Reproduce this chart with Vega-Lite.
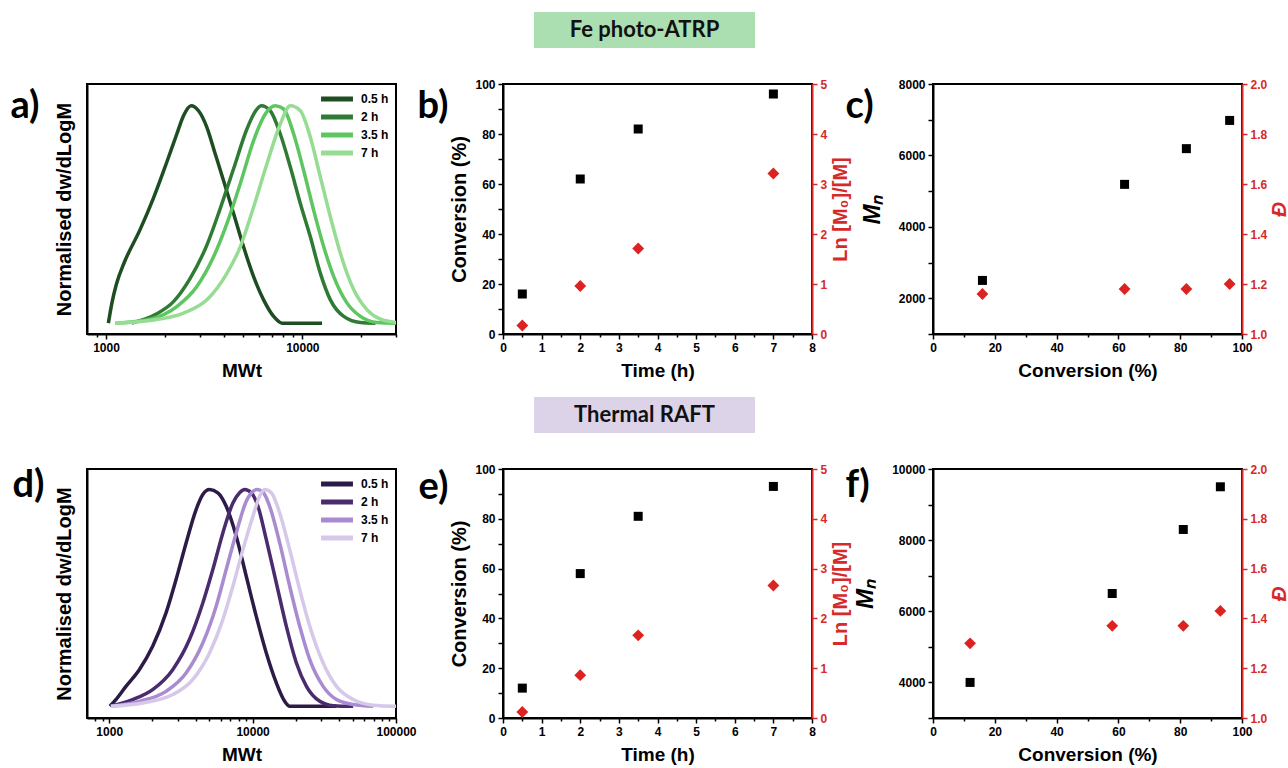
{
  "$schema": "https://vega.github.io/schema/vega-lite/v6.json",
  "padding": {"left": 10, "top": 12, "right": 2, "bottom": 5},
  "autosize": {"type": "pad"},
  "background": "white",
  "spacing": 0,
  "bounds": "flush",
  "resolve": {"scale": {"color": "independent"}, "legend": {"color": "independent"}},
  "datasets": {
    "boxA": [{"label": "Fe photo-ATRP"}],
    "boxB": [{"label": "Thermal RAFT"}],
    "empty": [{}],
    "gpcA": [
      {"t": "0.5 h", "M": 1028, "w": 0}, {"t": "0.5 h", "M": 1070, "w": 0.09}, {"t": "0.5 h", "M": 1130, "w": 0.18}, {"t": "0.5 h", "M": 1240, "w": 0.28}, {"t": "0.5 h", "M": 1491, "w": 0.43}, {"t": "0.5 h", "M": 1744, "w": 0.575}, {"t": "0.5 h", "M": 2039, "w": 0.74}, {"t": "0.5 h", "M": 2294, "w": 0.87}, {"t": "0.5 h", "M": 2481, "w": 0.954}, {"t": "0.5 h", "M": 2715, "w": 1}, {"t": "0.5 h", "M": 2959, "w": 0.977}, {"t": "0.5 h", "M": 3264, "w": 0.901}, {"t": "0.5 h", "M": 3598, "w": 0.779}, {"t": "0.5 h", "M": 3967, "w": 0.656}, {"t": "0.5 h", "M": 4464, "w": 0.504}, {"t": "0.5 h", "M": 5018, "w": 0.351}, {"t": "0.5 h", "M": 5646, "w": 0.214}, {"t": "0.5 h", "M": 6349, "w": 0.107}, {"t": "0.5 h", "M": 7141, "w": 0.031}, {"t": "0.5 h", "M": 7876, "w": 0}, {"t": "0.5 h", "M": 12600, "w": 0},
      {"t": "2 h", "M": 1352, "w": 0}, {"t": "2 h", "M": 1814, "w": 0.043}, {"t": "2 h", "M": 2206, "w": 0.099}, {"t": "2 h", "M": 2683, "w": 0.206}, {"t": "2 h", "M": 3264, "w": 0.359}, {"t": "2 h", "M": 3816, "w": 0.527}, {"t": "2 h", "M": 4464, "w": 0.71}, {"t": "2 h", "M": 5220, "w": 0.893}, {"t": "2 h", "M": 5757, "w": 0.974}, {"t": "2 h", "M": 6178, "w": 1}, {"t": "2 h", "M": 6866, "w": 0.977}, {"t": "2 h", "M": 7723, "w": 0.87}, {"t": "2 h", "M": 8686, "w": 0.718}, {"t": "2 h", "M": 9768, "w": 0.55}, {"t": "2 h", "M": 10985, "w": 0.397}, {"t": "2 h", "M": 12355, "w": 0.229}, {"t": "2 h", "M": 13896, "w": 0.107}, {"t": "2 h", "M": 16254, "w": 0.031}, {"t": "2 h", "M": 19766, "w": 0.003}, {"t": "2 h", "M": 23575, "w": 0},
      {"t": "3.5 h", "M": 1111, "w": 0}, {"t": "3.5 h", "M": 1677, "w": 0.018}, {"t": "3.5 h", "M": 2294, "w": 0.076}, {"t": "3.5 h", "M": 2902, "w": 0.168}, {"t": "3.5 h", "M": 3529, "w": 0.305}, {"t": "3.5 h", "M": 4127, "w": 0.458}, {"t": "3.5 h", "M": 4828, "w": 0.641}, {"t": "3.5 h", "M": 5646, "w": 0.84}, {"t": "3.5 h", "M": 6475, "w": 0.962}, {"t": "3.5 h", "M": 7281, "w": 1}, {"t": "3.5 h", "M": 8031, "w": 0.985}, {"t": "3.5 h", "M": 9033, "w": 0.87}, {"t": "3.5 h", "M": 10157, "w": 0.702}, {"t": "3.5 h", "M": 11423, "w": 0.519}, {"t": "3.5 h", "M": 12849, "w": 0.351}, {"t": "3.5 h", "M": 14453, "w": 0.214}, {"t": "3.5 h", "M": 16901, "w": 0.092}, {"t": "3.5 h", "M": 19766, "w": 0.031}, {"t": "3.5 h", "M": 24044, "w": 0.003}, {"t": "3.5 h", "M": 30000, "w": 0},
      {"t": "7 h", "M": 1111, "w": 0}, {"t": "7 h", "M": 1677, "w": 0.012}, {"t": "7 h", "M": 2481, "w": 0.046}, {"t": "7 h", "M": 3264, "w": 0.107}, {"t": "7 h", "M": 4127, "w": 0.229}, {"t": "7 h", "M": 4828, "w": 0.351}, {"t": "7 h", "M": 5646, "w": 0.534}, {"t": "7 h", "M": 6602, "w": 0.733}, {"t": "7 h", "M": 7723, "w": 0.916}, {"t": "7 h", "M": 8686, "w": 1}, {"t": "7 h", "M": 9768, "w": 0.977}, {"t": "7 h", "M": 10985, "w": 0.855}, {"t": "7 h", "M": 12355, "w": 0.672}, {"t": "7 h", "M": 13896, "w": 0.489}, {"t": "7 h", "M": 15627, "w": 0.321}, {"t": "7 h", "M": 18277, "w": 0.153}, {"t": "7 h", "M": 21377, "w": 0.061}, {"t": "7 h", "M": 25003, "w": 0.018}, {"t": "7 h", "M": 30000, "w": 0.003}
    ],
    "gpcD": [
      {"t": "0.5 h", "M": 1011, "w": 0}, {"t": "0.5 h", "M": 1113, "w": 0.031}, {"t": "0.5 h", "M": 1308, "w": 0.092}, {"t": "0.5 h", "M": 1621, "w": 0.169}, {"t": "0.5 h", "M": 2009, "w": 0.277}, {"t": "0.5 h", "M": 2490, "w": 0.431}, {"t": "0.5 h", "M": 2926, "w": 0.585}, {"t": "0.5 h", "M": 3437, "w": 0.754}, {"t": "0.5 h", "M": 4037, "w": 0.908}, {"t": "0.5 h", "M": 4495, "w": 0.977}, {"t": "0.5 h", "M": 5005, "w": 1}, {"t": "0.5 h", "M": 5723, "w": 0.985}, {"t": "0.5 h", "M": 6545, "w": 0.923}, {"t": "0.5 h", "M": 7689, "w": 0.785}, {"t": "0.5 h", "M": 9031, "w": 0.6}, {"t": "0.5 h", "M": 10607, "w": 0.415}, {"t": "0.5 h", "M": 12462, "w": 0.246}, {"t": "0.5 h", "M": 14637, "w": 0.108}, {"t": "0.5 h", "M": 16743, "w": 0.023}, {"t": "0.5 h", "M": 18143, "w": 0}, {"t": "0.5 h", "M": 38470, "w": 0},
      {"t": "2 h", "M": 1027, "w": 0}, {"t": "2 h", "M": 1456, "w": 0.031}, {"t": "2 h", "M": 2009, "w": 0.077}, {"t": "2 h", "M": 2773, "w": 0.169}, {"t": "2 h", "M": 3626, "w": 0.308}, {"t": "2 h", "M": 4495, "w": 0.477}, {"t": "2 h", "M": 5280, "w": 0.631}, {"t": "2 h", "M": 6202, "w": 0.8}, {"t": "2 h", "M": 7288, "w": 0.938}, {"t": "2 h", "M": 8113, "w": 0.985}, {"t": "2 h", "M": 8794, "w": 1}, {"t": "2 h", "M": 9788, "w": 0.985}, {"t": "2 h", "M": 10897, "w": 0.923}, {"t": "2 h", "M": 12462, "w": 0.769}, {"t": "2 h", "M": 14637, "w": 0.569}, {"t": "2 h", "M": 17197, "w": 0.369}, {"t": "2 h", "M": 20205, "w": 0.2}, {"t": "2 h", "M": 23736, "w": 0.092}, {"t": "2 h", "M": 29413, "w": 0.023}, {"t": "2 h", "M": 36460, "w": 0.003}, {"t": "2 h", "M": 50299, "w": 0},
      {"t": "3.5 h", "M": 1027, "w": 0}, {"t": "3.5 h", "M": 1621, "w": 0.023}, {"t": "3.5 h", "M": 2490, "w": 0.069}, {"t": "3.5 h", "M": 3437, "w": 0.154}, {"t": "3.5 h", "M": 4495, "w": 0.292}, {"t": "3.5 h", "M": 5570, "w": 0.462}, {"t": "3.5 h", "M": 6545, "w": 0.631}, {"t": "3.5 h", "M": 7689, "w": 0.8}, {"t": "3.5 h", "M": 9031, "w": 0.946}, {"t": "3.5 h", "M": 10054, "w": 0.992}, {"t": "3.5 h", "M": 10723, "w": 1}, {"t": "3.5 h", "M": 11811, "w": 0.988}, {"t": "3.5 h", "M": 13148, "w": 0.923}, {"t": "3.5 h", "M": 15446, "w": 0.754}, {"t": "3.5 h", "M": 18143, "w": 0.554}, {"t": "3.5 h", "M": 21318, "w": 0.369}, {"t": "3.5 h", "M": 25045, "w": 0.215}, {"t": "3.5 h", "M": 31033, "w": 0.092}, {"t": "3.5 h", "M": 38470, "w": 0.031}, {"t": "3.5 h", "M": 50299, "w": 0.008}, {"t": "3.5 h", "M": 69418, "w": 0},
      {"t": "7 h", "M": 1027, "w": 0}, {"t": "7 h", "M": 1711, "w": 0.015}, {"t": "7 h", "M": 2773, "w": 0.054}, {"t": "7 h", "M": 3826, "w": 0.123}, {"t": "7 h", "M": 5005, "w": 0.246}, {"t": "7 h", "M": 6202, "w": 0.4}, {"t": "7 h", "M": 7288, "w": 0.554}, {"t": "7 h", "M": 8558, "w": 0.723}, {"t": "7 h", "M": 10054, "w": 0.877}, {"t": "7 h", "M": 11194, "w": 0.969}, {"t": "7 h", "M": 12134, "w": 1}, {"t": "7 h", "M": 13506, "w": 0.985}, {"t": "7 h", "M": 15446, "w": 0.892}, {"t": "7 h", "M": 18143, "w": 0.723}, {"t": "7 h", "M": 21318, "w": 0.538}, {"t": "7 h", "M": 25045, "w": 0.369}, {"t": "7 h", "M": 31033, "w": 0.2}, {"t": "7 h", "M": 38470, "w": 0.092}, {"t": "7 h", "M": 50299, "w": 0.031}, {"t": "7 h", "M": 69418, "w": 0.005}, {"t": "7 h", "M": 100000, "w": 0}
    ],
    "kinB": [
      {"time": 0.5, "conv": 16, "ln": 0.17}, {"time": 2, "conv": 62, "ln": 0.96}, {"time": 3.5, "conv": 82, "ln": 1.71}, {"time": 7, "conv": 96, "ln": 3.21}
    ],
    "kinE": [
      {"time": 0.5, "conv": 12, "ln": 0.12}, {"time": 2, "conv": 58, "ln": 0.86}, {"time": 3.5, "conv": 81, "ln": 1.66}, {"time": 7, "conv": 93, "ln": 2.66}
    ],
    "mnC": [
      {"conv": 16, "Mn": 2500, "D": 1.16}, {"conv": 62, "Mn": 5190, "D": 1.18}, {"conv": 82, "Mn": 6190, "D": 1.18}, {"conv": 96, "Mn": 6980, "D": 1.2}
    ],
    "mnF": [
      {"conv": 12, "Mn": 4000, "D": 1.3}, {"conv": 58, "Mn": 6500, "D": 1.37}, {"conv": 81, "Mn": 8300, "D": 1.37}, {"conv": 93, "Mn": 9500, "D": 1.43}
    ]
  },
  "vconcat": [
    {
      "hconcat": [
        {"width": 524, "height": 36, "view": {"stroke": null}, "data": {"name": "empty"}, "mark": "text", "encoding": {}},
        {"width": 221, "height": 36, "view": {"stroke": null, "fill": "#abdeb1"}, "data": {"name": "boxA"}, "mark": {"type": "text", "font": "Lato", "fontWeight": "bold", "fontSize": 22, "color": "#111111"}, "encoding": {"text": {"field": "label", "type": "nominal"}}}
      ],
      "spacing": 0, "bounds": "flush"
    },
    {"width": 1, "height": 72, "view": {"stroke": null}, "data": {"name": "empty"}, "mark": "text", "encoding": {}},
    {
      "hconcat": [
        {"width": 1, "height": 68, "view": {"stroke": null}, "data": {"values": [{"label": "a)"}]}, "mark": {"type": "text", "align": "left", "baseline": "alphabetic", "font": "Lato", "fontWeight": "bold", "fontSize": 38, "color": "black"}, "encoding": {"text": {"field": "label", "type": "nominal"}}},
        {"width": 76, "height": 1, "view": {"stroke": null}, "data": {"name": "empty"}, "mark": "text", "encoding": {}},
        {
          "width": 309, "height": 250,
          "data": {"name": "gpcA"},
          "mark": {"type": "line", "strokeWidth": 3.5, "interpolate": "monotone", "clip": true},
          "encoding": {
            "x": {"field": "M", "type": "quantitative", "scale": {"type": "log", "domain": [800, 30000], "nice": false},
              "axis": {"title": "MWt", "format": "d", "labelOverlap": false, "values": [900, 1000, 2000, 3000, 4000, 5000, 6000, 7000, 8000, 9000, 10000, 20000, 30000],
                "labelExpr": "datum.value == 1000 || datum.value == 10000 ? datum.label : ''",
                "tickSize": {"condition": {"test": "datum.value == 1000 || datum.value == 10000", "value": 5}, "value": 3}}},
            "y": {"field": "w", "type": "quantitative", "scale": {"domain": [-0.05, 1.1], "nice": false, "zero": false},
              "axis": {"title": "Normalised dw/dLogM", "ticks": false, "labels": false, "titlePadding": 13}},
            "color": {"field": "t", "type": "nominal", "sort": null,
              "scale": {"domain": ["0.5 h", "2 h", "3.5 h", "7 h"], "range": ["#1e4d21", "#2f7b33", "#5ec660", "#96dc93"]},
              "legend": {"title": null, "orient": "top-right", "offset": 5, "symbolType": "M-2.9,0L2.9,0", "symbolSize": 121, "symbolStrokeWidth": 5, "labelFont": "Liberation Sans", "labelFontWeight": "bold", "labelFontSize": 12, "labelColor": "black", "rowPadding": -3, "labelOffset": 16, "padding": 2}}
          }
        },
        {"width": 21, "height": 1, "view": {"stroke": null}, "data": {"name": "empty"}, "mark": "text", "encoding": {}},
        {"width": 1, "height": 68, "view": {"stroke": null}, "data": {"values": [{"label": "b)"}]}, "mark": {"type": "text", "align": "left", "baseline": "alphabetic", "font": "Lato", "fontWeight": "bold", "fontSize": 38, "color": "black"}, "encoding": {"text": {"field": "label", "type": "nominal"}}},
        {"width": 85, "height": 1, "view": {"stroke": null}, "data": {"name": "empty"}, "mark": "text", "encoding": {}},
        {
          "width": 309, "height": 250,
          "data": {"name": "kinB"},
          "encoding": {
            "x": {"field": "time", "type": "quantitative", "scale": {"domain": [0, 8], "nice": false},
              "axis": {"title": "Time (h)", "labelOverlap": false, "values": [0, 0.5, 1, 1.5, 2, 2.5, 3, 3.5, 4, 4.5, 5, 5.5, 6, 6.5, 7, 7.5, 8], "labelExpr": "datum.value == round(datum.value) ? format(datum.value, 'd') : ''", "tickSize": {"condition": {"test": "datum.value == round(datum.value)", "value": 5}, "value": 3}}}
          },
          "layer": [
            {"mark": {"type": "square", "size": 81, "color": "black", "filled": true, "opacity": 1},
              "encoding": {
                "y": {"field": "conv", "type": "quantitative", "scale": {"domain": [0, 100], "nice": false},
                  "axis": {"orient": "left", "title": "Conversion (%)", "labelOverlap": false, "values": [0, 10, 20, 30, 40, 50, 60, 70, 80, 90, 100], "labelExpr": "datum.value % 20 == 0 ? datum.label : ''"}}
              }},
            {"mark": {"type": "point", "shape": "diamond", "size": 140, "color": "#dd2222", "filled": true, "opacity": 1},
              "encoding": {
                "y": {"field": "ln", "type": "quantitative", "scale": {"domain": [0, 5], "nice": false},
                  "axis": {"orient": "right", "title": "Ln [M₀]/[M]", "titleAngle": 270, "titleBaseline": "top", "labelOverlap": false, "values": [0, 1, 2, 3, 4, 5], "domainColor": "#d62a2a", "tickColor": "#d62a2a", "labelColor": "#d62a2a", "titleColor": "#d62a2a", "titlePadding": 4}}
              }}
          ],
          "resolve": {"scale": {"y": "independent"}}
        },
        {"width": 33, "height": 1, "view": {"stroke": null}, "data": {"name": "empty"}, "mark": "text", "encoding": {}},
        {"width": 1, "height": 68, "view": {"stroke": null}, "data": {"values": [{"label": "c)"}]}, "mark": {"type": "text", "align": "left", "baseline": "alphabetic", "font": "Lato", "fontWeight": "bold", "fontSize": 38, "color": "black"}, "encoding": {"text": {"field": "label", "type": "nominal"}}},
        {"width": 87, "height": 1, "view": {"stroke": null}, "data": {"name": "empty"}, "mark": "text", "encoding": {}},
        {
          "width": 309, "height": 250,
          "data": {"name": "mnC"},
          "encoding": {
            "x": {"field": "conv", "type": "quantitative", "scale": {"domain": [0, 100], "nice": false},
              "axis": {"title": "Conversion (%)", "labelOverlap": false, "values": [0, 10, 20, 30, 40, 50, 60, 70, 80, 90, 100], "labelExpr": "datum.value % 20 == 0 ? datum.label : ''", "tickSize": {"condition": {"test": "datum.value % 20 == 0", "value": 5}, "value": 3}}}
          },
          "layer": [
            {"mark": {"type": "square", "size": 81, "color": "black", "filled": true, "opacity": 1},
              "encoding": {
                "y": {"field": "Mn", "type": "quantitative", "scale": {"domain": [1000, 8000], "nice": false, "zero": false},
                  "axis": {"orient": "left", "title": "Mₙ", "titleFontSize": 24, "titleFontStyle": "italic", "titlePadding": 14, "format": "d", "labelOverlap": false, "values": [1000, 2000, 3000, 4000, 5000, 6000, 7000, 8000], "labelExpr": "datum.value % 2000 == 0 ? datum.label : ''"}}
              }},
            {"mark": {"type": "point", "shape": "diamond", "size": 140, "color": "#dd2222", "filled": true, "opacity": 1},
              "encoding": {
                "y": {"field": "D", "type": "quantitative", "scale": {"domain": [1, 2], "nice": false, "zero": false},
                  "axis": {"orient": "right", "title": "Đ", "titleFontSize": 21, "titleFontStyle": "italic", "titleAngle": 270, "titleBaseline": "top", "format": ".1f", "labelOverlap": false, "values": [1, 1.2, 1.4, 1.6, 1.8, 2], "domainColor": "#d62a2a", "tickColor": "#d62a2a", "labelColor": "#d62a2a", "titleColor": "#d62a2a", "titlePadding": 2}}
              }}
          ],
          "resolve": {"scale": {"y": "independent"}}
        }
      ],
      "spacing": 0, "bounds": "flush",
      "resolve": {"scale": {"color": "independent"}, "legend": {"color": "independent"}}
    },
    {"width": 1, "height": 313, "view": {"stroke": null}, "data": {"name": "empty"}, "mark": "text", "encoding": {}},
    {
      "hconcat": [
        {"width": 524, "height": 36, "view": {"stroke": null}, "data": {"name": "empty"}, "mark": "text", "encoding": {}},
        {"width": 221, "height": 36, "view": {"stroke": null, "fill": "#dcd3e8"}, "data": {"name": "boxB"}, "mark": {"type": "text", "font": "Lato", "fontWeight": "bold", "fontSize": 22, "color": "#111111"}, "encoding": {"text": {"field": "label", "type": "nominal"}}}
      ],
      "spacing": 0, "bounds": "flush"
    },
    {"width": 1, "height": 72, "view": {"stroke": null}, "data": {"name": "empty"}, "mark": "text", "encoding": {}},
    {
      "hconcat": [
        {"width": 2, "height": 1, "view": {"stroke": null}, "data": {"name": "empty"}, "mark": "text", "encoding": {}},
        {"width": 1, "height": 56, "view": {"stroke": null}, "data": {"values": [{"label": "d)"}]}, "mark": {"type": "text", "align": "left", "baseline": "alphabetic", "font": "Lato", "fontWeight": "bold", "fontSize": 38, "color": "black"}, "encoding": {"text": {"field": "label", "type": "nominal"}}},
        {"width": 74, "height": 1, "view": {"stroke": null}, "data": {"name": "empty"}, "mark": "text", "encoding": {}},
        {
          "width": 309, "height": 249,
          "data": {"name": "gpcD"},
          "mark": {"type": "line", "strokeWidth": 3.5, "interpolate": "monotone", "clip": true},
          "encoding": {
            "x": {"field": "M", "type": "quantitative", "scale": {"type": "log", "domain": [700, 100000], "nice": false},
              "axis": {"title": "MWt", "format": "d", "labelOverlap": false, "values": [800, 900, 1000, 2000, 3000, 4000, 5000, 6000, 7000, 8000, 9000, 10000, 20000, 30000, 40000, 50000, 60000, 70000, 80000, 90000, 100000],
                "labelExpr": "datum.value == 1000 || datum.value == 10000 || datum.value == 100000 ? datum.label : ''",
                "tickSize": {"condition": {"test": "datum.value == 1000 || datum.value == 10000 || datum.value == 100000", "value": 5}, "value": 3}}},
            "y": {"field": "w", "type": "quantitative", "scale": {"domain": [-0.054, 1.095], "nice": false, "zero": false},
              "axis": {"title": "Normalised dw/dLogM", "ticks": false, "labels": false, "titlePadding": 13}},
            "color": {"field": "t", "type": "nominal", "sort": null,
              "scale": {"domain": ["0.5 h", "2 h", "3.5 h", "7 h"], "range": ["#2d1b47", "#4a2c6e", "#a98bd0", "#d6c8e9"]},
              "legend": {"title": null, "orient": "top-right", "offset": 5, "symbolType": "M-2.9,0L2.9,0", "symbolSize": 121, "symbolStrokeWidth": 5, "labelFont": "Liberation Sans", "labelFontWeight": "bold", "labelFontSize": 12, "labelColor": "black", "rowPadding": -3, "labelOffset": 16, "padding": 2}}
          }
        },
        {"width": 22, "height": 1, "view": {"stroke": null}, "data": {"name": "empty"}, "mark": "text", "encoding": {}},
        {"width": 1, "height": 60, "view": {"stroke": null}, "data": {"values": [{"label": "e)"}]}, "mark": {"type": "text", "align": "left", "baseline": "alphabetic", "font": "Lato", "fontWeight": "bold", "fontSize": 38, "color": "black"}, "encoding": {"text": {"field": "label", "type": "nominal"}}},
        {"width": 84, "height": 1, "view": {"stroke": null}, "data": {"name": "empty"}, "mark": "text", "encoding": {}},
        {
          "width": 309, "height": 249,
          "data": {"name": "kinE"},
          "encoding": {
            "x": {"field": "time", "type": "quantitative", "scale": {"domain": [0, 8], "nice": false},
              "axis": {"title": "Time (h)", "labelOverlap": false, "values": [0, 0.5, 1, 1.5, 2, 2.5, 3, 3.5, 4, 4.5, 5, 5.5, 6, 6.5, 7, 7.5, 8], "labelExpr": "datum.value == round(datum.value) ? format(datum.value, 'd') : ''", "tickSize": {"condition": {"test": "datum.value == round(datum.value)", "value": 5}, "value": 3}}}
          },
          "layer": [
            {"mark": {"type": "square", "size": 81, "color": "black", "filled": true, "opacity": 1},
              "encoding": {
                "y": {"field": "conv", "type": "quantitative", "scale": {"domain": [0, 100], "nice": false},
                  "axis": {"orient": "left", "title": "Conversion (%)", "labelOverlap": false, "values": [0, 10, 20, 30, 40, 50, 60, 70, 80, 90, 100], "labelExpr": "datum.value % 20 == 0 ? datum.label : ''"}}
              }},
            {"mark": {"type": "point", "shape": "diamond", "size": 140, "color": "#dd2222", "filled": true, "opacity": 1},
              "encoding": {
                "y": {"field": "ln", "type": "quantitative", "scale": {"domain": [0, 5], "nice": false},
                  "axis": {"orient": "right", "title": "Ln [M₀]/[M]", "titleAngle": 270, "titleBaseline": "top", "labelOverlap": false, "values": [0, 1, 2, 3, 4, 5], "domainColor": "#d62a2a", "tickColor": "#d62a2a", "labelColor": "#d62a2a", "titleColor": "#d62a2a", "titlePadding": 4}}
              }}
          ],
          "resolve": {"scale": {"y": "independent"}}
        },
        {"width": 33, "height": 1, "view": {"stroke": null}, "data": {"name": "empty"}, "mark": "text", "encoding": {}},
        {"width": 1, "height": 56, "view": {"stroke": null}, "data": {"values": [{"label": "f)"}]}, "mark": {"type": "text", "align": "left", "baseline": "alphabetic", "font": "Lato", "fontWeight": "bold", "fontSize": 38, "color": "black"}, "encoding": {"text": {"field": "label", "type": "nominal"}}},
        {"width": 87, "height": 1, "view": {"stroke": null}, "data": {"name": "empty"}, "mark": "text", "encoding": {}},
        {
          "width": 309, "height": 249,
          "data": {"name": "mnF"},
          "encoding": {
            "x": {"field": "conv", "type": "quantitative", "scale": {"domain": [0, 100], "nice": false},
              "axis": {"title": "Conversion (%)", "labelOverlap": false, "values": [0, 10, 20, 30, 40, 50, 60, 70, 80, 90, 100], "labelExpr": "datum.value % 20 == 0 ? datum.label : ''", "tickSize": {"condition": {"test": "datum.value % 20 == 0", "value": 5}, "value": 3}}}
          },
          "layer": [
            {"mark": {"type": "square", "size": 81, "color": "black", "filled": true, "opacity": 1},
              "encoding": {
                "y": {"field": "Mn", "type": "quantitative", "scale": {"domain": [3000, 10000], "nice": false, "zero": false},
                  "axis": {"orient": "left", "title": "Mₙ", "titleFontSize": 24, "titleFontStyle": "italic", "titlePadding": 14, "format": "d", "labelOverlap": false, "values": [3000, 4000, 5000, 6000, 7000, 8000, 9000, 10000], "labelExpr": "datum.value % 2000 == 0 ? datum.label : ''"}}
              }},
            {"mark": {"type": "point", "shape": "diamond", "size": 140, "color": "#dd2222", "filled": true, "opacity": 1},
              "encoding": {
                "y": {"field": "D", "type": "quantitative", "scale": {"domain": [1, 2], "nice": false, "zero": false},
                  "axis": {"orient": "right", "title": "Đ", "titleFontSize": 21, "titleFontStyle": "italic", "titleAngle": 270, "titleBaseline": "top", "format": ".1f", "labelOverlap": false, "values": [1, 1.2, 1.4, 1.6, 1.8, 2], "domainColor": "#d62a2a", "tickColor": "#d62a2a", "labelColor": "#d62a2a", "titleColor": "#d62a2a", "titlePadding": 2}}
              }}
          ],
          "resolve": {"scale": {"y": "independent"}}
        }
      ],
      "spacing": 0, "bounds": "flush",
      "resolve": {"scale": {"color": "independent"}, "legend": {"color": "independent"}}
    }
  ],
  "config": {
    "view": {"stroke": "black", "strokeWidth": 2},
    "axis": {
      "grid": false, "domainColor": "black", "domainWidth": 2, "tickColor": "black", "tickWidth": 1.5, "tickSize": 5,
      "labelFont": "Liberation Sans", "labelFontWeight": "bold", "labelFontSize": 12, "labelColor": "black", "labelPadding": 3,
      "labelFlush": false, "labelOverlap": false,
      "titleFont": "Liberation Sans", "titleFontWeight": "bold", "titleFontSize": 19, "titleColor": "black", "titlePadding": 8
    },
    "axisY": {"titleFontSize": 20, "titlePadding": 5}
  }
}
